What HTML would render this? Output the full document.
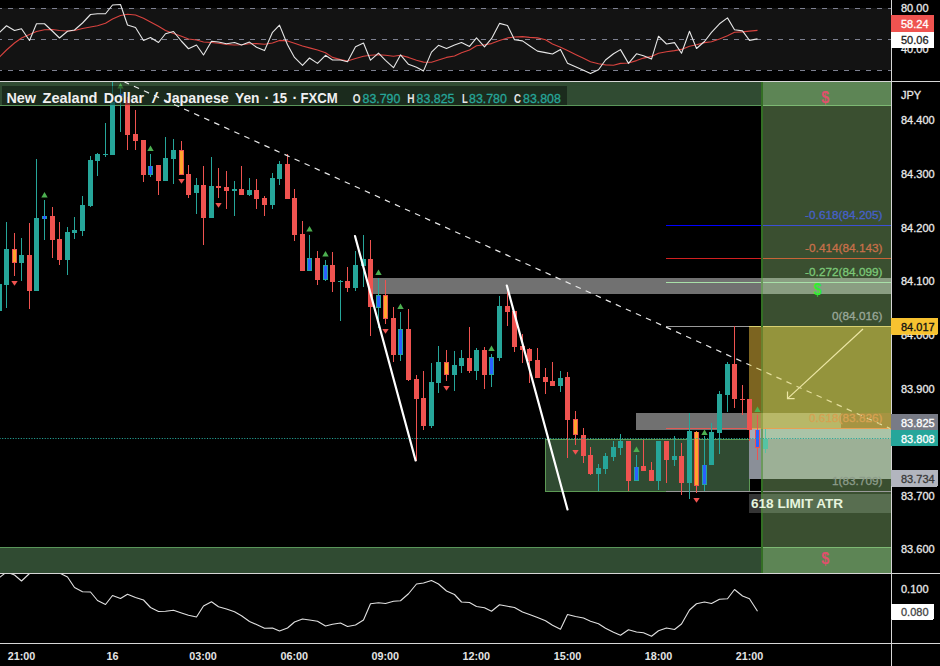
<!DOCTYPE html>
<html><head><meta charset="utf-8"><title>NZDJPY chart</title>
<style>html,body{margin:0;padding:0;background:#000;width:940px;height:666px;overflow:hidden}</style></head>
<body>
<svg width="940" height="666" viewBox="0 0 940 666" style="position:absolute;left:0;top:0;display:block">
<rect width="940" height="666" fill="#000"/>
<g>
<rect x="0" y="8" width="891" height="62" fill="#131313"/>
<line x1="0" x2="891" y1="8.5" y2="8.5" stroke="#7d8090" stroke-width="1" stroke-dasharray="5 6" stroke-dashoffset="3" shape-rendering="crispEdges"/>
<line x1="0" x2="891" y1="39.5" y2="39.5" stroke="#7d8090" stroke-width="1" stroke-dasharray="5 6" stroke-dashoffset="3" shape-rendering="crispEdges"/>
<line x1="0" x2="891" y1="70.5" y2="70.5" stroke="#7d8090" stroke-width="1" stroke-dasharray="5 6" stroke-dashoffset="3" shape-rendering="crispEdges"/>
<polyline fill="none" stroke="#d8433f" stroke-width="1.1" stroke-linejoin="round" points="-0.5,57.00 6.5,50.00 14.5,43.00 21.5,38.00 29.5,34.50 36.5,31.50 44.5,29.75 52.5,29.50 59.5,30.50 67.5,31.00 74.5,30.50 82.5,28.50 90.5,27.00 97.5,25.75 105.5,23.25 112.5,19.00 120.5,15.50 127.5,14.25 135.5,15.00 143.5,18.25 150.5,22.00 158.5,26.25 165.5,30.50 173.5,33.50 181.5,36.25 188.5,39.00 196.5,40.00 203.5,42.00 211.5,42.50 218.5,43.25 226.5,44.50 234.5,45.00 241.5,44.70 249.5,43.80 256.5,43.60 264.5,44.30 272.5,43.00 279.5,40.40 287.5,40.90 294.5,43.20 302.5,46.00 309.5,47.90 317.5,50.00 325.5,52.80 332.5,57.40 340.5,59.60 347.5,61.10 355.5,58.50 363.5,56.20 370.5,55.30 378.5,54.70 385.5,55.30 393.5,56.20 400.5,55.30 408.5,57.40 416.5,60.20 423.5,62.10 431.5,62.30 438.5,60.00 446.5,57.40 454.5,56.00 461.5,52.80 469.5,50.00 476.5,45.70 484.5,44.70 491.5,43.60 499.5,40.40 507.5,37.90 514.5,37.00 522.5,36.60 529.5,37.40 537.5,37.90 545.5,39.80 552.5,44.00 560.5,47.20 567.5,50.60 575.5,54.50 583.5,58.30 590.5,61.70 598.5,63.80 605.5,64.90 613.5,65.30 620.5,63.40 628.5,63.00 636.5,60.60 643.5,58.10 651.5,56.40 658.5,53.20 666.5,51.70 674.5,50.60 681.5,49.40 689.5,46.20 696.5,44.70 704.5,42.60 711.5,41.70 719.5,38.90 727.5,35.70 734.5,32.30 742.5,31.90 749.5,31.10 757.5,30.40"/>
<polyline fill="none" stroke="#e6e6e6" stroke-width="1.1" stroke-linejoin="round" points="-0.5,32.50 6.5,25.75 14.5,30.50 21.5,28.75 29.5,40.50 36.5,23.75 44.5,23.75 52.5,31.25 59.5,38.00 67.5,31.25 74.5,30.00 82.5,23.00 90.5,14.50 97.5,13.75 105.5,13.75 112.5,5.00 120.5,4.50 127.5,25.00 135.5,27.50 143.5,40.50 150.5,37.50 158.5,42.50 165.5,33.75 173.5,31.50 181.5,41.25 188.5,48.75 196.5,45.00 203.5,55.00 211.5,41.25 218.5,42.00 226.5,43.75 234.5,42.50 241.5,45.10 249.5,42.10 256.5,47.20 264.5,50.60 272.5,32.30 279.5,25.10 287.5,44.70 294.5,57.40 302.5,65.30 309.5,58.00 317.5,63.40 325.5,55.30 332.5,60.00 340.5,60.00 347.5,61.70 355.5,46.80 363.5,43.00 370.5,60.20 378.5,53.20 385.5,60.30 393.5,67.70 400.5,54.90 408.5,64.30 416.5,67.20 423.5,70.90 431.5,52.10 438.5,45.30 446.5,48.50 454.5,45.10 461.5,42.60 469.5,46.40 476.5,37.90 484.5,46.80 491.5,38.70 499.5,23.40 507.5,25.50 514.5,39.80 522.5,40.90 529.5,45.70 537.5,51.10 545.5,52.60 552.5,54.00 560.5,49.40 567.5,63.20 575.5,66.70 583.5,70.20 590.5,73.60 598.5,69.80 605.5,60.00 613.5,53.80 620.5,49.60 628.5,63.40 636.5,53.80 643.5,55.70 651.5,59.10 658.5,36.20 666.5,44.00 674.5,42.60 681.5,53.20 689.5,31.30 696.5,48.50 704.5,41.50 711.5,32.30 719.5,23.80 727.5,17.90 734.5,29.80 742.5,30.90 749.5,40.40 757.5,38.90"/>
</g>
<polyline fill="none" stroke="#e0e0e0" stroke-width="1.1" stroke-linejoin="round" points="-0.5,577.50 6.5,572.00 14.5,575.00 21.5,581.00 29.5,573.50 36.5,568.00 44.5,566.00 52.5,568.00 59.5,573.00 67.5,577.00 74.5,587.50 82.5,591.75 90.5,592.00 97.5,600.50 105.5,604.50 112.5,595.50 120.5,598.50 127.5,594.25 135.5,597.50 143.5,600.00 150.5,607.50 158.5,611.50 165.5,611.25 173.5,610.25 181.5,613.00 188.5,615.25 196.5,617.00 203.5,606.00 211.5,601.75 218.5,606.75 226.5,609.00 234.5,611.75 241.5,615.75 249.5,621.50 256.5,624.50 264.5,628.25 272.5,628.00 279.5,631.00 287.5,628.00 294.5,622.00 302.5,619.00 309.5,620.00 317.5,621.25 325.5,626.00 332.5,624.25 340.5,623.00 347.5,626.50 355.5,625.00 363.5,620.00 370.5,603.75 378.5,602.75 385.5,603.50 393.5,601.25 400.5,600.75 408.5,593.75 416.5,584.00 423.5,583.00 431.5,580.50 438.5,584.00 446.5,591.00 454.5,594.50 461.5,602.00 469.5,602.50 476.5,606.50 484.5,607.75 491.5,611.25 499.5,604.75 507.5,606.25 514.5,607.50 522.5,612.00 529.5,614.50 537.5,617.50 545.5,620.75 552.5,625.25 560.5,629.25 567.5,614.50 575.5,616.50 583.5,618.00 590.5,621.25 598.5,623.75 605.5,628.25 613.5,632.25 620.5,635.25 628.5,629.75 636.5,632.00 643.5,632.75 651.5,636.25 658.5,630.75 666.5,628.00 674.5,629.50 681.5,624.00 689.5,610.00 696.5,603.75 704.5,602.00 711.5,603.50 719.5,599.25 727.5,598.75 734.5,589.50 742.5,596.00 749.5,598.75 757.5,611.25"/>
<g shape-rendering="crispEdges">
<rect x="0" y="82" width="762" height="24" fill="#304b32"/>
<rect x="762" y="82" width="129" height="24" fill="#5d8555"/>
<rect x="0" y="105" width="762" height="1" fill="#5a965a"/>
<rect x="762" y="105" width="129" height="1" fill="#7db973"/>
<rect x="762" y="106" width="129" height="441" fill="#3a4f30"/>
<rect x="0" y="547" width="762" height="26" fill="#304b32"/>
<rect x="762" y="547" width="129" height="26" fill="#5d8555"/>
<rect x="0" y="547" width="762" height="1" fill="#5a965a"/>
<rect x="762" y="547" width="129" height="1" fill="#7db973"/>
<rect x="761" y="82" width="2" height="491" fill="#336f24"/>
<rect x="373" y="278" width="389" height="16" fill="#717171"/>
<rect x="762" y="278" width="129" height="16" fill="#8a9e82"/>
<rect x="545" y="439" width="205" height="53" fill="#304b32"/>
<rect x="545" y="439" width="205" height="1" fill="#5d9a55"/><rect x="545" y="491" width="205" height="1" fill="#5d9a55"/><rect x="545" y="439" width="1" height="53" fill="#5d9a55"/><rect x="749" y="439" width="1" height="53" fill="#5d9a55"/>
<rect x="636" y="413" width="113" height="17" fill="#717171"/>
<rect x="749" y="327" width="13" height="86" fill="#7c6420"/>
<rect x="762" y="327" width="129" height="86" fill="#94943c"/>
<rect x="749" y="413" width="13" height="16" fill="#a89050"/>
<rect x="762" y="413" width="79" height="16" fill="#b8b868"/>
<rect x="841" y="413" width="50" height="16" fill="#a69442"/>
<rect x="749" y="326" width="142" height="1" fill="#d8d070"/>
<rect x="749" y="429" width="13" height="50" fill="#8a8f98"/><rect x="749" y="429" width="13" height="10" fill="#a8adb6"/>
<rect x="762" y="429" width="129" height="10" fill="#aac4a8"/>
<rect x="762" y="439" width="129" height="40" fill="#9cb096"/>
<rect x="749" y="494" width="13" height="19" fill="#343434"/>
<rect x="762" y="494" width="129" height="19" fill="#586e50"/>
<rect x="666" y="225" width="96" height="1" fill="#0000ff"/><rect x="762" y="225" width="129" height="1" fill="#3c50d7"/>
<rect x="666" y="258" width="96" height="1" fill="#d02020"/><rect x="762" y="258" width="129" height="1" fill="#c86438"/>
<rect x="666" y="282" width="225" height="1" fill="#a8e0a8"/>
<rect x="666" y="326" width="83" height="1" fill="#9a9a9a"/>
<rect x="666" y="428" width="83" height="1" fill="#e25a55"/><rect x="749" y="428" width="142" height="1" fill="#e8a052"/>
<rect x="666" y="491" width="225" height="1" fill="#9a9a9a"/>
<rect x="761" y="106" width="2" height="441" fill="#336f24"/>
<rect x="761" y="327" width="2" height="86" fill="#6b822d"/><rect x="761" y="413" width="2" height="16" fill="#96a54b"/><rect x="761" y="429" width="2" height="50" fill="#6b9a5c"/>
<rect x="761" y="278" width="2" height="16" fill="#6a9a5c"/><rect x="761" y="494" width="2" height="19" fill="#4c7a3c"/>
</g>
<g shape-rendering="crispEdges">
<rect x="-1" y="284" width="1" height="27" fill="#26a69a"/>
<rect x="-3" y="284" width="5" height="27" fill="#26a69a"/>
<rect x="6" y="222" width="1" height="86" fill="#26a69a"/>
<rect x="4" y="249" width="5" height="36" fill="#26a69a"/>
<rect x="14" y="233" width="1" height="43" fill="#ef5350"/>
<rect x="12" y="249" width="5" height="13.5" fill="#ef5350"/>
<rect x="12.8" y="249.7" width="3.4" height="12.1" fill="#ffa52c"/>
<rect x="21" y="238" width="1" height="43" fill="#26a69a"/>
<rect x="19" y="255" width="5" height="8" fill="#26a69a"/>
<rect x="29" y="223" width="1" height="86" fill="#ef5350"/>
<rect x="27" y="255" width="5" height="36" fill="#ef5350"/>
<rect x="36" y="159" width="1" height="132" fill="#26a69a"/>
<rect x="34" y="218" width="5" height="73" fill="#26a69a"/>
<rect x="44" y="200" width="1" height="40" fill="#26a69a"/>
<rect x="42" y="216" width="5" height="2.5" fill="#26a69a"/>
<rect x="43" y="216" width="3" height="2.5" fill="#2962ff"/>
<rect x="52" y="207" width="1" height="51" fill="#ef5350"/>
<rect x="50" y="216" width="5" height="24" fill="#ef5350"/>
<rect x="59" y="222" width="1" height="43" fill="#ef5350"/>
<rect x="57" y="239" width="5" height="21" fill="#ef5350"/>
<rect x="67" y="227" width="1" height="48" fill="#26a69a"/>
<rect x="65" y="232" width="5" height="28" fill="#26a69a"/>
<rect x="74" y="217" width="1" height="22" fill="#26a69a"/>
<rect x="72" y="230" width="5" height="3" fill="#26a69a"/>
<rect x="82" y="196" width="1" height="40" fill="#26a69a"/>
<rect x="80" y="205" width="5" height="26" fill="#26a69a"/>
<rect x="90" y="156" width="1" height="51" fill="#26a69a"/>
<rect x="88" y="160" width="5" height="46" fill="#26a69a"/>
<rect x="97" y="152.5" width="1" height="23.5" fill="#26a69a"/>
<rect x="95" y="154" width="5" height="7" fill="#26a69a"/>
<rect x="105" y="123" width="1" height="34" fill="#26a69a"/>
<rect x="103" y="153.5" width="5" height="1.5" fill="#26a69a"/>
<rect x="112" y="82" width="1" height="73" fill="#26a69a"/>
<rect x="110" y="102" width="5" height="53" fill="#26a69a"/>
<rect x="120" y="88" width="1" height="44" fill="#26a69a"/>
<rect x="118" y="94" width="5" height="2.5" fill="#26a69a"/>
<rect x="119" y="94" width="3" height="2.5" fill="#2962ff"/>
<rect x="127" y="97" width="1" height="53" fill="#ef5350"/>
<rect x="125" y="100" width="5" height="35" fill="#ef5350"/>
<rect x="135" y="110" width="1" height="40" fill="#ef5350"/>
<rect x="133" y="134" width="5" height="7" fill="#ef5350"/>
<rect x="143" y="140" width="1" height="42" fill="#ef5350"/>
<rect x="141" y="140" width="5" height="35" fill="#ef5350"/>
<rect x="150" y="154" width="1" height="23" fill="#26a69a"/>
<rect x="148" y="165.5" width="5" height="9.0" fill="#26a69a"/>
<rect x="148.8" y="166.2" width="3.4" height="7.6" fill="#2962ff"/>
<rect x="158" y="165" width="1" height="30" fill="#ef5350"/>
<rect x="156" y="165" width="5" height="16" fill="#ef5350"/>
<rect x="165" y="137" width="1" height="44" fill="#26a69a"/>
<rect x="163" y="158" width="5" height="23" fill="#26a69a"/>
<rect x="173" y="139" width="1" height="45" fill="#26a69a"/>
<rect x="171" y="150" width="5" height="9" fill="#26a69a"/>
<rect x="181" y="141" width="1" height="34" fill="#ef5350"/>
<rect x="179" y="150" width="5" height="24.5" fill="#ef5350"/>
<rect x="179.8" y="150.7" width="3.4" height="23.1" fill="#ffa52c"/>
<rect x="188" y="165" width="1" height="33" fill="#ef5350"/>
<rect x="186" y="174" width="5" height="21" fill="#ef5350"/>
<rect x="196" y="178" width="1" height="36" fill="#26a69a"/>
<rect x="194" y="185" width="5" height="8" fill="#26a69a"/>
<rect x="203" y="166" width="1" height="79" fill="#ef5350"/>
<rect x="201" y="185" width="5" height="33" fill="#ef5350"/>
<rect x="211" y="157" width="1" height="61" fill="#26a69a"/>
<rect x="209" y="186" width="5" height="32" fill="#26a69a"/>
<rect x="218" y="168" width="1" height="30" fill="#ef5350"/>
<rect x="216" y="186" width="5" height="2" fill="#ef5350"/>
<rect x="226" y="171" width="1" height="38" fill="#ef5350"/>
<rect x="224" y="187" width="5" height="4" fill="#ef5350"/>
<rect x="234" y="181" width="1" height="35" fill="#26a69a"/>
<rect x="232" y="189" width="5" height="2" fill="#26a69a"/>
<rect x="241" y="166" width="1" height="29" fill="#ef5350"/>
<rect x="239" y="189" width="5" height="6" fill="#ef5350"/>
<rect x="249" y="178" width="1" height="18" fill="#26a69a"/>
<rect x="247" y="190" width="5" height="5" fill="#26a69a"/>
<rect x="256" y="179" width="1" height="30" fill="#ef5350"/>
<rect x="254" y="190" width="5" height="9" fill="#ef5350"/>
<rect x="264" y="196" width="1" height="20" fill="#ef5350"/>
<rect x="262" y="198" width="5" height="7" fill="#ef5350"/>
<rect x="272" y="173" width="1" height="36" fill="#26a69a"/>
<rect x="270" y="178" width="5" height="27" fill="#26a69a"/>
<rect x="279" y="161" width="1" height="24" fill="#26a69a"/>
<rect x="277" y="164" width="5" height="15" fill="#26a69a"/>
<rect x="287" y="154" width="1" height="45" fill="#ef5350"/>
<rect x="285" y="164" width="5" height="35" fill="#ef5350"/>
<rect x="294" y="189" width="1" height="52" fill="#ef5350"/>
<rect x="292" y="198" width="5" height="37" fill="#ef5350"/>
<rect x="302" y="221" width="1" height="50" fill="#ef5350"/>
<rect x="300" y="234" width="5" height="37" fill="#ef5350"/>
<rect x="309" y="235" width="1" height="36" fill="#26a69a"/>
<rect x="307" y="258" width="5" height="12.5" fill="#26a69a"/>
<rect x="307.8" y="258.7" width="3.4" height="11.1" fill="#2962ff"/>
<rect x="317" y="251" width="1" height="34" fill="#ef5350"/>
<rect x="315" y="258" width="5" height="22" fill="#ef5350"/>
<rect x="325" y="260" width="1" height="21" fill="#26a69a"/>
<rect x="323" y="265" width="5" height="15" fill="#26a69a"/>
<rect x="323.8" y="265.7" width="3.4" height="13.6" fill="#2962ff"/>
<rect x="332" y="252" width="1" height="40" fill="#ef5350"/>
<rect x="330" y="265" width="5" height="17" fill="#ef5350"/>
<rect x="340" y="280" width="1" height="41" fill="#26a69a"/>
<rect x="338" y="280.5" width="5" height="1.0" fill="#26a69a"/>
<rect x="347" y="267" width="1" height="25" fill="#ef5350"/>
<rect x="345" y="281" width="5" height="7" fill="#ef5350"/>
<rect x="355" y="251" width="1" height="40" fill="#26a69a"/>
<rect x="353" y="265" width="5" height="23" fill="#26a69a"/>
<rect x="363" y="235" width="1" height="52" fill="#26a69a"/>
<rect x="361" y="259" width="5" height="7" fill="#26a69a"/>
<rect x="370" y="240" width="1" height="96" fill="#ef5350"/>
<rect x="368" y="259" width="5" height="48" fill="#ef5350"/>
<rect x="378" y="278" width="1" height="49.5" fill="#26a69a"/>
<rect x="376" y="295" width="5" height="13" fill="#26a69a"/>
<rect x="376.8" y="295.7" width="3.4" height="11.6" fill="#2962ff"/>
<rect x="385" y="280" width="1" height="44" fill="#ef5350"/>
<rect x="383" y="295" width="5" height="23.5" fill="#ef5350"/>
<rect x="383.8" y="295.7" width="3.4" height="22.1" fill="#ffa52c"/>
<rect x="393" y="307" width="1" height="55" fill="#ef5350"/>
<rect x="391" y="318" width="5" height="37" fill="#ef5350"/>
<rect x="400" y="312" width="1" height="49" fill="#26a69a"/>
<rect x="398" y="329" width="5" height="26" fill="#26a69a"/>
<rect x="398.8" y="329.7" width="3.4" height="24.6" fill="#2962ff"/>
<rect x="408" y="309" width="1" height="72" fill="#ef5350"/>
<rect x="406" y="329" width="5" height="51" fill="#ef5350"/>
<rect x="416" y="375" width="1" height="86" fill="#ef5350"/>
<rect x="414" y="379" width="5" height="20" fill="#ef5350"/>
<rect x="423" y="371" width="1" height="59" fill="#ef5350"/>
<rect x="421" y="398" width="5" height="28" fill="#ef5350"/>
<rect x="431" y="363" width="1" height="65" fill="#26a69a"/>
<rect x="429" y="382" width="5" height="44" fill="#26a69a"/>
<rect x="438" y="346" width="1" height="47" fill="#26a69a"/>
<rect x="436" y="362" width="5" height="21" fill="#26a69a"/>
<rect x="446" y="350" width="1" height="31" fill="#ef5350"/>
<rect x="444" y="362" width="5" height="13" fill="#ef5350"/>
<rect x="444.8" y="362.7" width="3.4" height="11.6" fill="#ffa52c"/>
<rect x="454" y="351" width="1" height="40" fill="#26a69a"/>
<rect x="452" y="365" width="5" height="10" fill="#26a69a"/>
<rect x="461" y="350" width="1" height="23" fill="#26a69a"/>
<rect x="459" y="358" width="5" height="8" fill="#26a69a"/>
<rect x="469" y="327" width="1" height="46" fill="#ef5350"/>
<rect x="467" y="358" width="5" height="13" fill="#ef5350"/>
<rect x="476" y="348" width="1" height="32" fill="#26a69a"/>
<rect x="474" y="350" width="5" height="21" fill="#26a69a"/>
<rect x="484" y="347" width="1" height="42" fill="#ef5350"/>
<rect x="482" y="350" width="5" height="25" fill="#ef5350"/>
<rect x="491" y="354" width="1" height="33" fill="#26a69a"/>
<rect x="489" y="357" width="5" height="17.5" fill="#26a69a"/>
<rect x="489.8" y="357.7" width="3.4" height="16.1" fill="#2962ff"/>
<rect x="499" y="296" width="1" height="65" fill="#26a69a"/>
<rect x="497" y="306" width="5" height="52" fill="#26a69a"/>
<rect x="507" y="286" width="1" height="40" fill="#ef5350"/>
<rect x="505" y="306" width="5" height="6" fill="#ef5350"/>
<rect x="514" y="311" width="1" height="41" fill="#ef5350"/>
<rect x="512" y="311" width="5" height="36" fill="#ef5350"/>
<rect x="522" y="334" width="1" height="29" fill="#ef5350"/>
<rect x="520" y="346" width="5" height="4" fill="#ef5350"/>
<rect x="529" y="348" width="1" height="35" fill="#ef5350"/>
<rect x="527" y="349" width="5" height="12" fill="#ef5350"/>
<rect x="537" y="348" width="1" height="30" fill="#ef5350"/>
<rect x="535" y="360" width="5" height="18" fill="#ef5350"/>
<rect x="545" y="368" width="1" height="26" fill="#ef5350"/>
<rect x="543" y="377" width="5" height="5" fill="#ef5350"/>
<rect x="552" y="362" width="1" height="24" fill="#ef5350"/>
<rect x="550" y="381" width="5" height="5" fill="#ef5350"/>
<rect x="560" y="371" width="1" height="21" fill="#26a69a"/>
<rect x="558" y="378" width="5" height="8" fill="#26a69a"/>
<rect x="567" y="372" width="1" height="86" fill="#ef5350"/>
<rect x="565" y="377" width="5" height="43" fill="#ef5350"/>
<rect x="575" y="411" width="1" height="34" fill="#ef5350"/>
<rect x="573" y="419" width="5" height="16" fill="#ef5350"/>
<rect x="573.8" y="419.7" width="3.4" height="14.6" fill="#ffa52c"/>
<rect x="583" y="428" width="1" height="35" fill="#ef5350"/>
<rect x="581" y="435" width="5" height="21" fill="#ef5350"/>
<rect x="590" y="447" width="1" height="28" fill="#ef5350"/>
<rect x="588" y="455" width="5" height="19" fill="#ef5350"/>
<rect x="598" y="464" width="1" height="27" fill="#26a69a"/>
<rect x="596" y="468" width="5" height="6" fill="#26a69a"/>
<rect x="605" y="453" width="1" height="21" fill="#26a69a"/>
<rect x="603" y="456" width="5" height="13" fill="#26a69a"/>
<rect x="613" y="441" width="1" height="20" fill="#26a69a"/>
<rect x="611" y="447" width="5" height="10" fill="#26a69a"/>
<rect x="620" y="434" width="1" height="21" fill="#26a69a"/>
<rect x="618" y="441" width="5" height="7" fill="#26a69a"/>
<rect x="628" y="441" width="1" height="50" fill="#ef5350"/>
<rect x="626" y="441" width="5" height="40" fill="#ef5350"/>
<rect x="636" y="455" width="1" height="26" fill="#26a69a"/>
<rect x="634" y="466.5" width="5" height="14.0" fill="#26a69a"/>
<rect x="634.8" y="467.2" width="3.4" height="12.6" fill="#2962ff"/>
<rect x="643" y="440" width="1" height="31" fill="#ef5350"/>
<rect x="641" y="466" width="5" height="5" fill="#ef5350"/>
<rect x="651" y="462" width="1" height="19" fill="#ef5350"/>
<rect x="649" y="470" width="5" height="11" fill="#ef5350"/>
<rect x="658" y="441" width="1" height="49" fill="#26a69a"/>
<rect x="656" y="441" width="5" height="40" fill="#26a69a"/>
<rect x="666" y="441" width="1" height="42" fill="#ef5350"/>
<rect x="664" y="441" width="5" height="19" fill="#ef5350"/>
<rect x="674" y="436" width="1" height="30" fill="#26a69a"/>
<rect x="672" y="456" width="5" height="4" fill="#26a69a"/>
<rect x="681" y="443" width="1" height="52" fill="#ef5350"/>
<rect x="679" y="456" width="5" height="27" fill="#ef5350"/>
<rect x="689" y="413" width="1" height="86" fill="#26a69a"/>
<rect x="687" y="431" width="5" height="52" fill="#26a69a"/>
<rect x="696" y="431" width="1" height="62" fill="#ef5350"/>
<rect x="694" y="431.5" width="5" height="54.0" fill="#ef5350"/>
<rect x="694.8" y="432.2" width="3.4" height="52.6" fill="#ffa52c"/>
<rect x="704" y="436" width="1" height="55" fill="#26a69a"/>
<rect x="702" y="464.5" width="5" height="20.0" fill="#26a69a"/>
<rect x="702.8" y="465.2" width="3.4" height="18.6" fill="#2962ff"/>
<rect x="711" y="423" width="1" height="42" fill="#26a69a"/>
<rect x="709" y="432" width="5" height="33" fill="#26a69a"/>
<rect x="719" y="391" width="1" height="63" fill="#26a69a"/>
<rect x="717" y="394" width="5" height="39" fill="#26a69a"/>
<rect x="727" y="362" width="1" height="50" fill="#26a69a"/>
<rect x="725" y="364" width="5" height="31" fill="#26a69a"/>
<rect x="734" y="326" width="1" height="82" fill="#ef5350"/>
<rect x="732" y="364" width="5" height="35" fill="#ef5350"/>
<rect x="742" y="385" width="1" height="29.5" fill="#ef5350"/>
<rect x="740" y="398.5" width="5" height="1.5" fill="#ef5350"/>
<rect x="749" y="399" width="1" height="42" fill="#ef5350"/>
<rect x="747" y="399" width="5" height="31" fill="#ef5350"/>
<rect x="757" y="415" width="1" height="45" fill="#ef5350"/>
<rect x="755" y="429.5" width="5" height="18.0" fill="#ef5350"/>
<rect x="755.8" y="430.2" width="3.4" height="16.6" fill="#2962ff"/>
<rect x="765" y="429" width="1" height="23.5" fill="#56c4a4"/>
<rect x="763" y="439" width="5" height="10" fill="#56c4a4"/>
</g>
<polygon points="11.3,281 17.7,281 14.5,285.8" fill="#f05350"/>
<polygon points="41.3,197.5 47.7,197.5 44.5,192" fill="#4caf50"/>
<polygon points="117.3,88.5 123.7,88.5 120.5,83" fill="#4caf50"/>
<polygon points="147.3,151.0 153.7,151.0 150.5,145.5" fill="#4caf50"/>
<polygon points="178.3,179 184.7,179 181.5,183.8" fill="#f05350"/>
<polygon points="215.3,203 221.7,203 218.5,207.8" fill="#f05350"/>
<polygon points="306.3,231.5 312.7,231.5 309.5,226" fill="#4caf50"/>
<polygon points="322.3,256.5 328.7,256.5 325.5,251" fill="#4caf50"/>
<polygon points="375.3,275.0 381.7,275.0 378.5,269.5" fill="#4caf50"/>
<polygon points="382.3,329 388.7,329 385.5,333.8" fill="#f05350"/>
<polygon points="397.3,309.0 403.7,309.0 400.5,303.5" fill="#4caf50"/>
<polygon points="443.3,386 449.7,386 446.5,390.8" fill="#f05350"/>
<polygon points="488.3,351.0 494.7,351.0 491.5,345.5" fill="#4caf50"/>
<polygon points="572.3,450 578.7,450 575.5,454.8" fill="#f05350"/>
<polygon points="633.3,452.0 639.7,452.0 636.5,446.5" fill="#4caf50"/>
<polygon points="693.3,498 699.7,498 696.5,502.8" fill="#f05350"/>
<polygon points="701.3,435.0 707.7,435.0 704.5,429.5" fill="#4caf50"/>
<polygon points="754.3,412.0 760.7,412.0 757.5,406.5" fill="#4caf50"/>
<rect x="2" y="86" width="565" height="19" fill="#000" fill-opacity="0.42" shape-rendering="crispEdges"/>
<line x1="0" x2="891" y1="438.5" y2="438.5" stroke="#26a69a" stroke-width="1" stroke-dasharray="1.1 1.56" stroke-dashoffset="0.5"/>
<defs><clipPath id="cl"><rect x="0" y="82" width="749" height="400"/></clipPath><clipPath id="cr"><rect x="749" y="82" width="142" height="400"/></clipPath></defs>
<line x1="124.5" y1="82" x2="890" y2="428.5" stroke="#e8e8e8" stroke-width="1.2" stroke-dasharray="5.6 5.42" stroke-dashoffset="0.7" clip-path="url(#cl)"/>
<line x1="124.5" y1="82" x2="890" y2="428.5" stroke="#e4de9c" stroke-width="1.2" stroke-dasharray="5.6 5.42" stroke-dashoffset="0.7" clip-path="url(#cr)"/>
<line x1="355" y1="236" x2="415.6" y2="460.5" stroke="#fff" stroke-width="2.2" stroke-linecap="round"/>
<line x1="506.8" y1="285.5" x2="567.5" y2="509.5" stroke="#fff" stroke-width="2.2" stroke-linecap="round"/>
<g stroke="#ece6a4" stroke-width="1.2" fill="none"><line x1="863" y1="329" x2="787.5" y2="398.6"/><polyline points="787.5,391.6 787.5,398.6 794.6,398.6"/></g>
<g shape-rendering="crispEdges">
<rect x="0" y="81" width="940" height="1" fill="#d6d6d6"/>
<rect x="0" y="573" width="940" height="1" fill="#d6d6d6"/>
<rect x="0" y="643" width="940" height="1" fill="#d6d6d6"/>
<rect x="891" y="0" width="49" height="81" fill="#000"/>
<rect x="891" y="82" width="49" height="491" fill="#000"/>
<rect x="891" y="574" width="49" height="69" fill="#000"/>
<rect x="891" y="0" width="1" height="666" fill="#d6d6d6"/>
<rect x="891" y="15" width="43" height="17" rx="1" fill="#ef5350"/>
<rect x="891" y="32" width="43" height="16" rx="1" fill="#ffffff"/>
<rect x="891" y="318" width="47" height="16.5" rx="1" fill="#f7c230"/>
<rect x="891" y="414" width="47" height="16" rx="1" fill="#787b86"/>
<rect x="891" y="430" width="47" height="16" rx="1" fill="#26a69a"/>
<rect x="891" y="470" width="47" height="16.5" rx="1" fill="#b2b5be"/>
<rect x="891" y="603.5" width="43" height="16" rx="1" fill="#ffffff"/>
</g>
<text x="901" y="12.2" font-family="'Liberation Sans',sans-serif" font-size="11" fill="#e8e8e8" text-anchor="start" font-weight="normal" stroke="#e8e8e8" stroke-width="0.3" >80.00</text>
<text x="901" y="53.2" font-family="'Liberation Sans',sans-serif" font-size="11" fill="#e8e8e8" text-anchor="start" font-weight="normal" stroke="#e8e8e8" stroke-width="0.3" >40.00</text>
<rect x="891" y="32" width="43" height="16" rx="1" fill="#ffffff"/>
<text x="901" y="28.4" font-family="'Liberation Sans',sans-serif" font-size="11" fill="#fff" text-anchor="start" font-weight="normal" stroke="#fff" stroke-width="0.3" >58.24</text>
<text x="901" y="44" font-family="'Liberation Sans',sans-serif" font-size="11" fill="#222" text-anchor="start" font-weight="normal" stroke="#222" stroke-width="0.3" >50.06</text>
<text x="901" y="99" font-family="'Liberation Sans',sans-serif" font-size="11" fill="#e8e8e8" text-anchor="start" font-weight="normal" stroke="#e8e8e8" stroke-width="0.3" >JPY</text>
<text x="901" y="124.1" font-family="'Liberation Sans',sans-serif" font-size="11" fill="#e8e8e8" text-anchor="start" font-weight="normal" stroke="#e8e8e8" stroke-width="0.3" >84.400</text>
<text x="901" y="177.6" font-family="'Liberation Sans',sans-serif" font-size="11" fill="#e8e8e8" text-anchor="start" font-weight="normal" stroke="#e8e8e8" stroke-width="0.3" >84.300</text>
<text x="901" y="231.6" font-family="'Liberation Sans',sans-serif" font-size="11" fill="#e8e8e8" text-anchor="start" font-weight="normal" stroke="#e8e8e8" stroke-width="0.3" >84.200</text>
<text x="901" y="285.1" font-family="'Liberation Sans',sans-serif" font-size="11" fill="#e8e8e8" text-anchor="start" font-weight="normal" stroke="#e8e8e8" stroke-width="0.3" >84.100</text>
<text x="901" y="338.6" font-family="'Liberation Sans',sans-serif" font-size="11" fill="#e8e8e8" text-anchor="start" font-weight="normal" stroke="#e8e8e8" stroke-width="0.3" >84.000</text>
<text x="901" y="392.6" font-family="'Liberation Sans',sans-serif" font-size="11" fill="#e8e8e8" text-anchor="start" font-weight="normal" stroke="#e8e8e8" stroke-width="0.3" >83.900</text>
<text x="901" y="499.6" font-family="'Liberation Sans',sans-serif" font-size="11" fill="#e8e8e8" text-anchor="start" font-weight="normal" stroke="#e8e8e8" stroke-width="0.3" >83.700</text>
<text x="901" y="553.1" font-family="'Liberation Sans',sans-serif" font-size="11" fill="#e8e8e8" text-anchor="start" font-weight="normal" stroke="#e8e8e8" stroke-width="0.3" >83.600</text>
<rect x="891" y="318" width="47" height="16.5" rx="1" fill="#f7c230"/>
<text x="901" y="330.5" font-family="'Liberation Sans',sans-serif" font-size="11" fill="#111" text-anchor="start" font-weight="normal" stroke="#111" stroke-width="0.3" >84.017</text>
<text x="901" y="427" font-family="'Liberation Sans',sans-serif" font-size="11" fill="#fff" text-anchor="start" font-weight="normal" stroke="#fff" stroke-width="0.3" >83.825</text>
<text x="901" y="442.5" font-family="'Liberation Sans',sans-serif" font-size="11" fill="#fff" text-anchor="start" font-weight="normal" stroke="#fff" stroke-width="0.3" >83.808</text>
<text x="901" y="482.8" font-family="'Liberation Sans',sans-serif" font-size="11" fill="#3a3a3a" text-anchor="start" font-weight="normal" stroke="#3a3a3a" stroke-width="0.3" >83.734</text>
<text x="901" y="593" font-family="'Liberation Sans',sans-serif" font-size="11" fill="#e8e8e8" text-anchor="start" font-weight="normal" stroke="#e8e8e8" stroke-width="0.3" >0.100</text>
<text x="901" y="615.6" font-family="'Liberation Sans',sans-serif" font-size="11" fill="#444" text-anchor="start" font-weight="normal" stroke="#444" stroke-width="0.3" >0.080</text>
<text x="21.5" y="660" font-family="'Liberation Sans',sans-serif" font-size="10.8" fill="#e4e4e4" text-anchor="middle" font-weight="bold"  >21:00</text>
<text x="112.5" y="660" font-family="'Liberation Sans',sans-serif" font-size="10.8" fill="#e4e4e4" text-anchor="middle" font-weight="bold"  >16</text>
<text x="203" y="660" font-family="'Liberation Sans',sans-serif" font-size="10.8" fill="#e4e4e4" text-anchor="middle" font-weight="bold"  >03:00</text>
<text x="294.3" y="660" font-family="'Liberation Sans',sans-serif" font-size="10.8" fill="#e4e4e4" text-anchor="middle" font-weight="bold"  >06:00</text>
<text x="385.3" y="660" font-family="'Liberation Sans',sans-serif" font-size="10.8" fill="#e4e4e4" text-anchor="middle" font-weight="bold"  >09:00</text>
<text x="476.3" y="660" font-family="'Liberation Sans',sans-serif" font-size="10.8" fill="#e4e4e4" text-anchor="middle" font-weight="bold"  >12:00</text>
<text x="567.5" y="660" font-family="'Liberation Sans',sans-serif" font-size="10.8" fill="#e4e4e4" text-anchor="middle" font-weight="bold"  >15:00</text>
<text x="658.5" y="660" font-family="'Liberation Sans',sans-serif" font-size="10.8" fill="#e4e4e4" text-anchor="middle" font-weight="bold"  >18:00</text>
<text x="749.5" y="660" font-family="'Liberation Sans',sans-serif" font-size="10.8" fill="#e4e4e4" text-anchor="middle" font-weight="bold"  >21:00</text>
<text x="6.4" y="103.4" font-family="'Liberation Sans',sans-serif" font-size="14.85" fill="#f0f0f0" text-anchor="start" font-weight="bold"  textLength="29.6" lengthAdjust="spacingAndGlyphs">New</text>
<text x="42.5" y="103.4" font-family="'Liberation Sans',sans-serif" font-size="14.85" fill="#f0f0f0" text-anchor="start" font-weight="bold"  textLength="55" lengthAdjust="spacingAndGlyphs">Zealand</text>
<text x="103.75" y="103.4" font-family="'Liberation Sans',sans-serif" font-size="14.85" fill="#f0f0f0" text-anchor="start" font-weight="bold"  textLength="40.3" lengthAdjust="spacingAndGlyphs">Dollar</text>
<text x="151.8" y="103.4" font-family="'Liberation Sans',sans-serif" font-size="14.85" fill="#f0f0f0" text-anchor="start" font-weight="normal"  textLength="6.4" lengthAdjust="spacingAndGlyphs">/</text>
<text x="163.75" y="103.4" font-family="'Liberation Sans',sans-serif" font-size="14.85" fill="#f0f0f0" text-anchor="start" font-weight="bold"  textLength="65" lengthAdjust="spacingAndGlyphs">Japanese</text>
<text x="235" y="103.4" font-family="'Liberation Sans',sans-serif" font-size="14.85" fill="#f0f0f0" text-anchor="start" font-weight="bold"  textLength="24.5" lengthAdjust="spacingAndGlyphs">Yen</text>
<text x="264.5" y="103.4" font-family="'Liberation Sans',sans-serif" font-size="14.85" fill="#f0f0f0" text-anchor="start" font-weight="bold"  >·</text>
<text x="272.5" y="103.4" font-family="'Liberation Sans',sans-serif" font-size="14.85" fill="#f0f0f0" text-anchor="start" font-weight="bold"  textLength="14.6" lengthAdjust="spacingAndGlyphs">15</text>
<text x="292.5" y="103.4" font-family="'Liberation Sans',sans-serif" font-size="14.85" fill="#f0f0f0" text-anchor="start" font-weight="bold"  >·</text>
<text x="300.5" y="103.4" font-family="'Liberation Sans',sans-serif" font-size="14.85" fill="#f0f0f0" text-anchor="start" font-weight="bold"  textLength="37.2" lengthAdjust="spacingAndGlyphs">FXCM</text>
<text x="352.8" y="103.4" font-family="'Liberation Sans',sans-serif" font-size="12.4" fill="#e6e6e6" text-anchor="start" font-weight="bold"  textLength="7.8" lengthAdjust="spacingAndGlyphs">O</text>
<text x="362.5" y="103.4" font-family="'Liberation Sans',sans-serif" font-size="12.4" fill="#26a69a" text-anchor="start" font-weight="normal" stroke="#26a69a" stroke-width="0.3" >83.790</text>
<text x="407.2" y="103.4" font-family="'Liberation Sans',sans-serif" font-size="12.4" fill="#e6e6e6" text-anchor="start" font-weight="bold"  textLength="7.3" lengthAdjust="spacingAndGlyphs">H</text>
<text x="416.6" y="103.4" font-family="'Liberation Sans',sans-serif" font-size="12.4" fill="#26a69a" text-anchor="start" font-weight="normal" stroke="#26a69a" stroke-width="0.3" >83.825</text>
<text x="462" y="103.4" font-family="'Liberation Sans',sans-serif" font-size="12.4" fill="#e6e6e6" text-anchor="start" font-weight="bold"  textLength="5.8" lengthAdjust="spacingAndGlyphs">L</text>
<text x="469" y="103.4" font-family="'Liberation Sans',sans-serif" font-size="12.4" fill="#26a69a" text-anchor="start" font-weight="normal" stroke="#26a69a" stroke-width="0.3" >83.780</text>
<text x="514" y="103.4" font-family="'Liberation Sans',sans-serif" font-size="12.4" fill="#e6e6e6" text-anchor="start" font-weight="bold"  textLength="7" lengthAdjust="spacingAndGlyphs">C</text>
<text x="523" y="103.4" font-family="'Liberation Sans',sans-serif" font-size="12.4" fill="#26a69a" text-anchor="start" font-weight="normal" stroke="#26a69a" stroke-width="0.3" >83.808</text>
<text x="882.5" y="219" font-family="'Liberation Sans',sans-serif" font-size="11.8" fill="#4660c8" text-anchor="end" font-weight="normal" stroke="#4660c8" stroke-width="0.3" >-0.618(84.205)</text>
<text x="882.5" y="252.3" font-family="'Liberation Sans',sans-serif" font-size="11.8" fill="#c8704a" text-anchor="end" font-weight="normal" stroke="#c8704a" stroke-width="0.3" >-0.414(84.143)</text>
<text x="882.5" y="275.8" font-family="'Liberation Sans',sans-serif" font-size="11.8" fill="#7cc878" text-anchor="end" font-weight="normal" stroke="#7cc878" stroke-width="0.3" >-0.272(84.099)</text>
<text x="882.5" y="320" font-family="'Liberation Sans',sans-serif" font-size="11.8" fill="#9aa89a" text-anchor="end" font-weight="normal" stroke="#9aa89a" stroke-width="0.3" >0(84.016)</text>
<text x="882.5" y="422.3" font-family="'Liberation Sans',sans-serif" font-size="11.8" fill="#d6a252" text-anchor="end" font-weight="normal" stroke="#d6a252" stroke-width="0.3" >0.618(83.826)</text>
<text x="882.5" y="485.3" font-family="'Liberation Sans',sans-serif" font-size="11.8" fill="#8c9c8a" text-anchor="end" font-weight="normal" stroke="#8c9c8a" stroke-width="0.3" >1(83.709)</text>
<text x="825.3" y="102.6" font-family="'Liberation Sans',sans-serif" font-size="16.5" fill="#e0506c" text-anchor="middle" font-weight="bold"  textLength="8" lengthAdjust="spacingAndGlyphs">$</text>
<text x="825.3" y="563.9" font-family="'Liberation Sans',sans-serif" font-size="16.5" fill="#e0506c" text-anchor="middle" font-weight="bold"  textLength="8" lengthAdjust="spacingAndGlyphs">$</text>
<text x="817.6" y="294.7" font-family="'Liberation Sans',sans-serif" font-size="16.5" fill="#30ee30" text-anchor="middle" font-weight="bold"  textLength="8" lengthAdjust="spacingAndGlyphs">$</text>
<text x="751" y="508.3" font-family="'Liberation Sans',sans-serif" font-size="13.6" fill="#e6f4de" text-anchor="start" font-weight="bold"  >618 LIMIT ATR</text>
</svg>
</body></html>
